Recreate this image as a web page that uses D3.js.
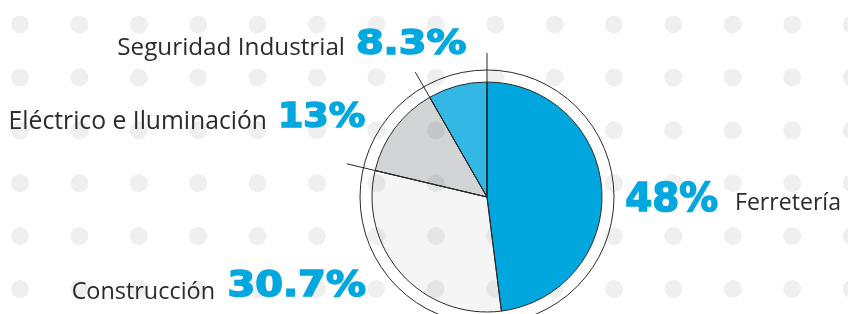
<!DOCTYPE html>
<html>
<head>
<meta charset="utf-8">
<script src="https://cdn.jsdelivr.net/npm/d3@7"></script>
<style>
  html, body { margin: 0; padding: 0; background: #ffffff; }
  svg { display: block; }
</style>
</head>
<body>
<svg id="chart" width="848" height="314"></svg>
<script>
// ---- data ----
const categories = ["Ferretería", "Construcción", "Eléctrico e Iluminación", "Seguridad Industrial"];
const values = [48, 30.7, 13, 8.3];
const valueLabels = ["48%", "30.7%", "13%", "8.3%"];

// ---- styles / layout (not data) ----
const sliceColors = ["#00a7de", "#f5f5f5", "#d3d4d6", "#33b7e5"];
const blueSlices = [true, false, false, true];
const labelLayout = [
  { side: "right", lx: 735, lbase: 210, lw: 106, px: 625.2, pbase: 210.8, pw: 93, ph: 29 },
  { side: "left",  lx: 215, lbase: 298.5, lw: 143.5, px: 227.4, pbase: 296.1, pw: 138.5, ph: 25.6 },
  { side: "left",  lx: 267, lbase: 128.5, lw: 258.5, px: 278, pbase: 126.7, pw: 87.2, ph: 24.9 },
  { side: "left",  lx: 345, lbase: 55, lw: 228, px: 355.9, pbase: 53.7, pw: 110.5, ph: 24.8 }
];
const leaderBoundaries = [0, 2, 3];

const cx = 487, cy = 197;
const rPie = 115, rRing = 127, rLeader = 144;

const svg = d3.select("#chart");

// dot grid
const dotCols = d3.range(0, 15), dotRows = d3.range(0, 6);
const xDot = d3.scaleLinear().domain([0, 1]).range([20, 79.4]);
const yDot = d3.scaleLinear().domain([0, 1]).range([24.5, 77.4]);
const dotsData = [];
dotRows.forEach(r => dotCols.forEach(c => dotsData.push({ r, c })));

const pie = d3.pie().sort(null).value(d => d).startAngle(0).endAngle(2 * Math.PI);
const arcs = pie(values);
const arc = d3.arc().innerRadius(0).outerRadius(rPie);

const g = svg.append("g").attr("transform", `translate(${cx},${cy})`);

g.selectAll("path.soft").data(arcs.filter((d, i) => !blueSlices[i]))
  .join("path").attr("class", "soft")
  .attr("d", arc)
  .attr("fill", d => sliceColors[d.index]);

svg.append("g").style("mix-blend-mode", "multiply")
  .selectAll("circle").data(dotsData).join("circle")
  .attr("cx", d => xDot(d.c)).attr("cy", d => yDot(d.r)).attr("r", 9)
  .attr("fill", "#efefef");

const g2 = svg.append("g").attr("transform", `translate(${cx},${cy})`);
g2.selectAll("path.blue").data(arcs.filter((d, i) => blueSlices[i]))
  .join("path").attr("class", "blue")
  .attr("d", arc)
  .attr("fill", d => sliceColors[d.index]);

g2.selectAll("path.outline").data(arcs).join("path").attr("class", "outline")
  .attr("d", arc).attr("fill", "none").attr("stroke", "#2a2a2a").attr("stroke-width", 1);

g2.append("circle").attr("r", rRing).attr("fill", "none").attr("stroke", "#2a2a2a").attr("stroke-width", 1);

g2.selectAll("line.leader").data(leaderBoundaries.map(i => arcs[i].startAngle)).join("line")
  .attr("class", "leader")
  .attr("x1", 0).attr("y1", 0)
  .attr("x2", a => Math.sin(a) * rLeader)
  .attr("y2", a => -Math.cos(a) * rLeader)
  .attr("stroke", "#2a2a2a").attr("stroke-width", 1);

const tg = svg.append("g");
categories.forEach((cat, i) => {
  const L = labelLayout[i];
  const t = tg.append("text")
    .attr("font-family", "'Open Sans', 'Noto Sans', sans-serif")
    .attr("font-size", 20)
    .attr("fill", "#2b2b2b")
    .attr("y", L.lbase)
    .text(cat);
  const w = t.node().getComputedTextLength();
  t.attr("font-size", 20 * L.lw / w);
  if (L.side === "left") t.attr("text-anchor", "end").attr("x", L.lx);
  else t.attr("text-anchor", "start").attr("x", L.lx);

  const capH = 0.729;
  tg.append("text")
    .attr("font-family", "'DejaVu Sans', sans-serif")
    .attr("font-weight", "bold")
    .attr("font-size", L.ph / capH)
    .attr("fill", "#00a8df")
    .attr("stroke", "#00a8df")
    .attr("stroke-width", 1.6)
    .attr("stroke-linejoin", "miter")
    .attr("x", L.px).attr("y", L.pbase)
    .attr("textLength", L.pw)
    .attr("lengthAdjust", "spacingAndGlyphs")
    .text(valueLabels[i]);
});
</script>
</body>
</html>
